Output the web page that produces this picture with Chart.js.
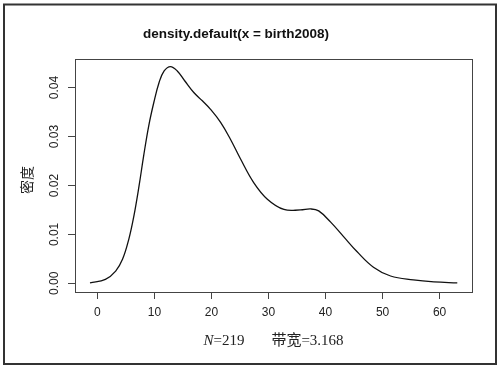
<!DOCTYPE html>
<html>
<head>
<meta charset="utf-8">
<script src="https://cdn.jsdelivr.net/npm/chart.js@4"></script>
<style>
  html, body { margin: 0; padding: 0; background: #fff; }
  #wrap { width: 501px; height: 366px; }
</style>
</head>
<body>
<div id="wrap"><canvas id="densityChart" width="501" height="366"></canvas></div>
<script>
const xValues = [-1.3, 1.4, 3.2, 4.4, 5.5, 6.4, 7.3, 8.1, 9.0, 9.9, 10.8, 11.7, 12.8, 14.0, 15.3,
                 16.9, 18.4, 19.8, 21.6, 23.3, 25.1, 27.4, 29.8, 32.7, 35.6, 37.4, 38.8, 40.9,
                 43.2, 45.5, 48.4, 51.4, 55.4, 59.0, 63.1];
const densityValues = [0.0001, 0.0008, 0.0025, 0.0049, 0.0090, 0.0138, 0.0199, 0.0260, 0.0322, 0.0370,
                       0.0410, 0.0434, 0.0443, 0.0434, 0.0414, 0.0390, 0.0373, 0.0356, 0.0329, 0.0295,
                       0.0254, 0.0206, 0.0172, 0.0151, 0.0150, 0.0152, 0.0148, 0.0125, 0.0095, 0.0065,
                       0.0033, 0.0015, 0.0007, 0.0003, 0.0001];
const xTicks = [0, 10, 20, 30, 40, 50, 60];
const yTicks = [0.00, 0.01, 0.02, 0.03, 0.04];
const yTickLabels = ['0.00', '0.01', '0.02', '0.03', '0.04'];
const titleText = 'density.default(x = birth2008)';
const yTitle = '密度';
const nLabel = 'N';
const nValue = '=219';
const bwText = '带宽=3.168';

const points = xValues.map((x, i) => ({ x: x, y: densityValues[i] }));

// cadre, étiquettes verticales et légende du bas
const decorPlugin = {
    id: 'decor',
    afterDraw(chart) {
        const ctx = chart.ctx;
        const area = chart.chartArea;
        const yScale = chart.scales.y;
        ctx.save();

        // bordure extérieure
        ctx.strokeStyle = '#333';
        ctx.lineWidth = 2;
        ctx.strokeRect(4, 4.5, 492, 359.5);

        // boîte du graphique
        ctx.strokeStyle = '#444';
        ctx.lineWidth = 1;
        ctx.strokeRect(Math.round(area.left) + 0.5, Math.round(area.top) + 0.5,
                       Math.round(area.right - area.left), Math.round(area.bottom - area.top));

        // étiquettes de l'axe y (tournées)
        ctx.fillStyle = '#222';
        ctx.font = '12px "Liberation Sans", Arial, sans-serif';
        ctx.textAlign = 'center';
        ctx.textBaseline = 'middle';
        yTicks.forEach((v, i) => {
            const py = yScale.getPixelForValue(v);
            ctx.save();
            ctx.translate(55, py);
            ctx.rotate(-Math.PI / 2);
            ctx.fillText(yTickLabels[i], 0, 0);
            ctx.restore();
        });

        // titre de l'axe y
        ctx.save();
        ctx.translate(27, 180);
        ctx.rotate(-Math.PI / 2);
        ctx.font = '14px "Noto Sans CJK SC", sans-serif';
        ctx.fillStyle = '#222';
        ctx.fillText(yTitle, 0, 0);
        ctx.restore();

        // N=219   带宽=3.168
        const italic = 'italic 15px "Liberation Serif", "Times New Roman", serif';
        const upright = '15px "Liberation Serif", "Times New Roman", "Noto Sans CJK SC", serif';
        ctx.textAlign = 'left';
        ctx.textBaseline = 'alphabetic';
        ctx.font = italic;
        const wN = ctx.measureText(nLabel).width;
        ctx.font = upright;
        const wV = ctx.measureText(nValue).width;
        const wB = ctx.measureText(bwText).width;
        const gap = 27;
        const total = wN + wV + gap + wB;
        let x0 = (area.left + area.right) / 2 - total / 2;
        const base = 345;
        ctx.font = italic;
        ctx.fillText(nLabel, x0, base);
        ctx.font = upright;
        ctx.fillText(nValue, x0 + wN, base);
        ctx.fillText(bwText, x0 + wN + wV + gap, base);

        ctx.restore();
    }
};

const ctx = document.getElementById('densityChart').getContext('2d');
new Chart(ctx, {
    type: 'line',
    data: {
        datasets: [{
            data: points,
            borderColor: '#111',
            borderWidth: 1.3,
            pointRadius: 0,
            fill: false,
            tension: 0.4
        }]
    },
    options: {
        responsive: false,
        animation: false,
        layout: {
            padding: { left: 0, right: 29, top: 0, bottom: 0 }
        },
        plugins: {
            legend: { display: false },
            tooltip: { enabled: false },
            title: {
                display: true,
                text: titleText,
                color: '#111',
                font: { family: '"Liberation Sans", Arial, sans-serif', size: 13.5, weight: 'bold' },
                padding: { top: 26, bottom: 17 }
            }
        },
        scales: {
            x: {
                type: 'linear',
                min: -3.93,
                max: 65.68,
                afterBuildTicks(scale) {
                    scale.ticks = xTicks.map(v => ({ value: v }));
                },
                afterFit(scale) {
                    scale.height = 74;
                },
                grid: {
                    drawOnChartArea: false,
                    drawTicks: true,
                    tickLength: 7,
                    color: '#444'
                },
                border: { display: false },
                ticks: {
                    color: '#222',
                    padding: 6,
                    maxRotation: 0,
                    font: { family: '"Liberation Sans", Arial, sans-serif', size: 12 }
                }
            },
            y: {
                type: 'linear',
                min: -0.00177,
                max: 0.0458,
                afterBuildTicks(scale) {
                    scale.ticks = yTicks.map(v => ({ value: v }));
                },
                afterFit(scale) {
                    scale.width = 75;
                },
                grid: {
                    drawOnChartArea: false,
                    drawTicks: true,
                    tickLength: 7,
                    color: '#444'
                },
                border: { display: false },
                ticks: { display: false }
            }
        }
    },
    plugins: [decorPlugin]
});
</script>
</body>
</html>
